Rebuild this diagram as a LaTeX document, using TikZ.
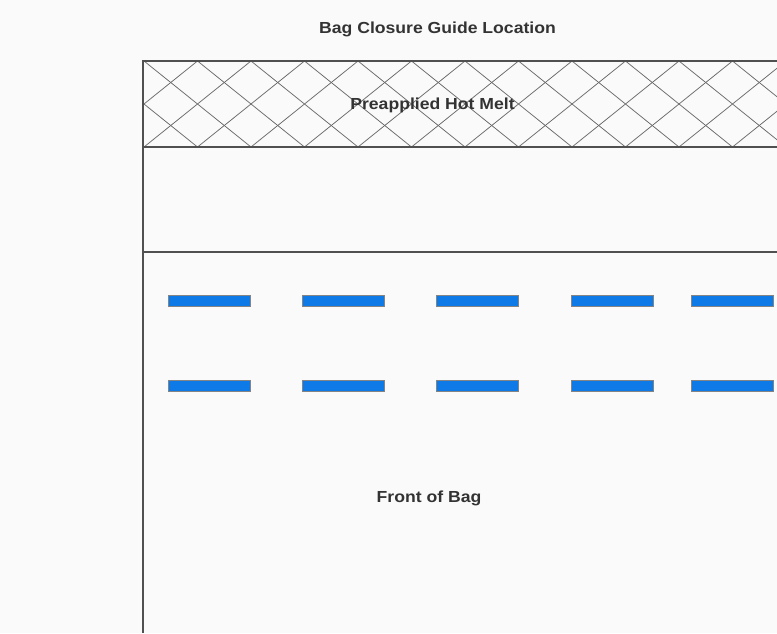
\documentclass[tikz,border=0pt]{standalone}
\usepackage{fontspec}
\setmainfont{Liberation Sans}
\definecolor{barblue}{RGB}{14,122,232}
\definecolor{linegray}{RGB}{80,80,80}
\definecolor{paper}{RGB}{250,250,250}
\tikzset{
  outline/.style={draw=linegray, line width=1.2pt},
  hatchline/.style={draw=linegray!85, line width=0.75pt},
  bar/.style={fill=barblue, draw=linegray!70, line width=0.6pt},
  lbl/.style={font=\bfseries\fontsize{16}{18}\selectfont, text=black!80, inner sep=0pt, anchor=base, xscale=1.1}
}
\begin{document}
\begin{tikzpicture}[x=1pt,y=-1pt]
  \fill[paper] (0,0) rectangle (777,633);
  \useasboundingbox (0,0) rectangle (777,633);
  % hatch
  \begin{scope}
    \clip (143,61) rectangle (777,147);
    \foreach \k in {-3,...,14} {
      \draw[hatchline] ({144+53.5*\k},61) -- ({144+53.5*\k+107},147);
      \draw[hatchline] ({144+53.5*\k},61) -- ({144+53.5*\k-107},147);
    }
  \end{scope}
  % outlines
  \draw[outline] (777,61) -- (143,61) -- (143,633);
  \draw[outline] (143,147) -- (777,147);
  \draw[outline] (143,252) -- (777,252);
  % bars
  \foreach \x [count=\i] in {168,302,436,571,691} {
    \filldraw[bar] (\x,295) rectangle ++(82,11);
    \filldraw[bar] (\x,380) rectangle ++(82,11);
  }
  \node[lbl] (title) at (437.5,33) {Bag Closure Guide Location};
  \node[lbl] (melt) at (432.5,109) {Preapplied Hot Melt};
  \node[lbl] (front) at (429,502) {Front of Bag};
\end{tikzpicture}
\end{document}
